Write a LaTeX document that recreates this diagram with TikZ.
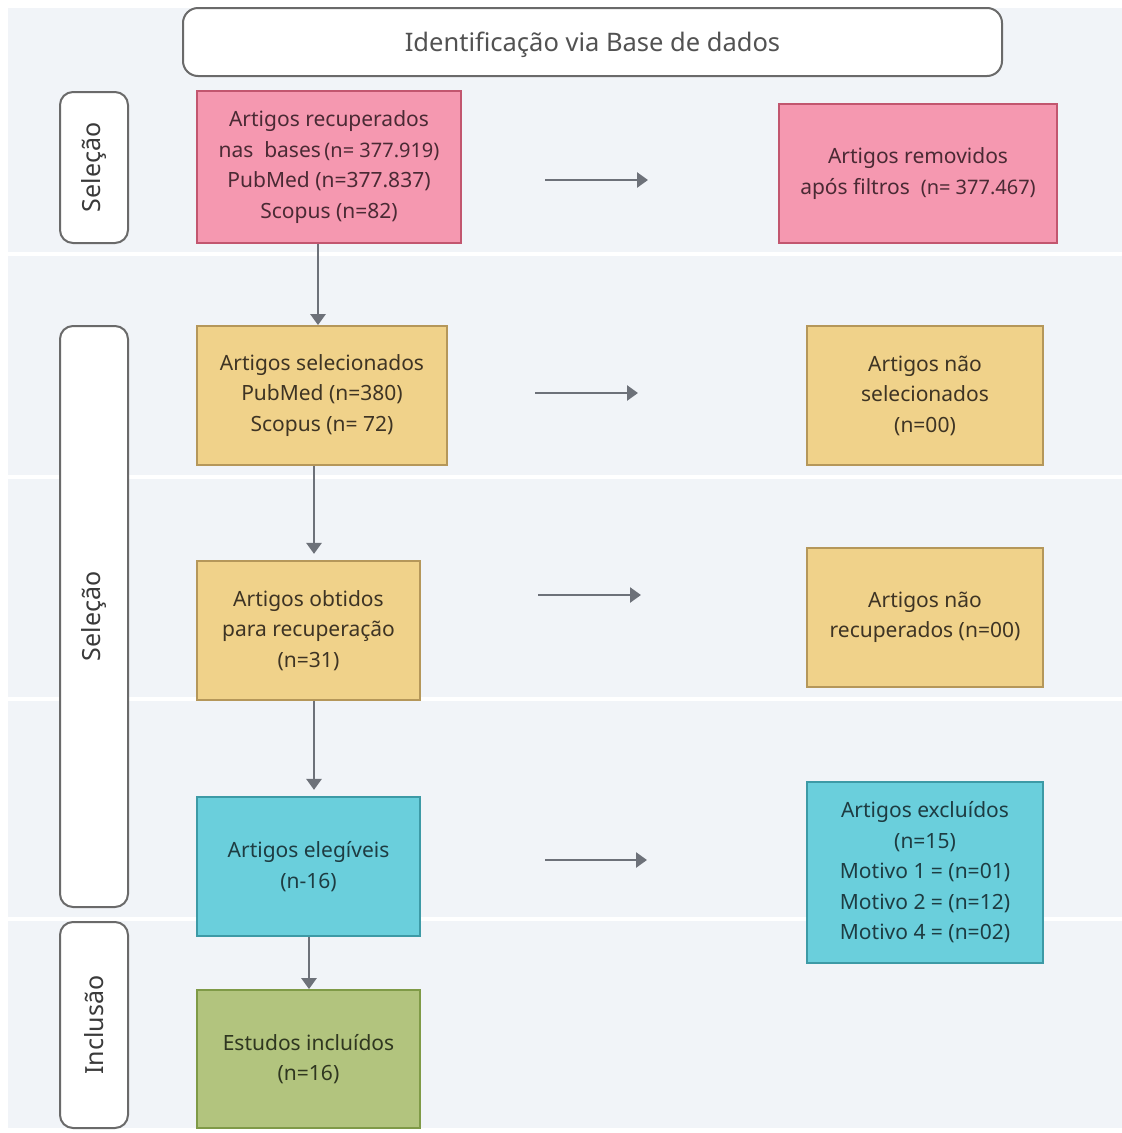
\documentclass[tikz,border=0pt]{standalone}
\usepackage{fontspec}
\setmainfont{Noto Sans}
\usetikzlibrary{arrows.meta}
\definecolor{bgc}{HTML}{F1F4F8}
\definecolor{pinkf}{HTML}{F598B0}
\definecolor{pinkd}{HTML}{C2566F}
\definecolor{pinkt}{HTML}{4A2A34}
\definecolor{yelf}{HTML}{F0D28A}
\definecolor{yeld}{HTML}{B5975A}
\definecolor{yelt}{HTML}{3E3424}
\definecolor{cyanf}{HTML}{6ACFDC}
\definecolor{cyand}{HTML}{3D9AA6}
\definecolor{cyant}{HTML}{1E3C42}
\definecolor{grnf}{HTML}{B2C47E}
\definecolor{grnd}{HTML}{7F9A47}
\definecolor{grnt}{HTML}{2F3620}
\definecolor{arrc}{HTML}{6D7179}
\definecolor{txt}{HTML}{3A3A3A}
\definecolor{lblb}{HTML}{6A6A6A}
\tikzset{
  box/.style={draw, line width=1.8pt, align=center, inner sep=0pt,
    font=\fontsize{21}{30.5}\selectfont},
  lane/.style={draw=lblb, fill=white, line width=2pt, rounded corners=13pt},
  lanetext/.style={rotate=90, text=txt, font=\fontsize{25}{28}\selectfont},
  arr/.style={draw=arrc, line width=2.6pt, -{Triangle[width=15pt,length=11pt]}},
}
\begin{document}
\begin{tikzpicture}[x=1pt,y=-1pt]
\useasboundingbox (0,0) rectangle (1122,1133);
\fill[white] (0,0) rectangle (1122,1133);
% bands
\fill[bgc] (8,8) rectangle (1122,252);
\fill[bgc] (8,256) rectangle (1122,475);
\fill[bgc] (8,479) rectangle (1122,697);
\fill[bgc] (8,701) rectangle (1122,917);
\fill[bgc] (8,921) rectangle (1122,1128);

% header
\node[lane, rounded corners=15pt, minimum width=819pt, minimum height=68pt] (head) at (592.5,42) {};
\node[font=\fontsize{25.5}{28}\selectfont, text=black!68] at ([yshift=-3pt]head.center) {Identificação via Base de dados};

% lane labels
\node[lane, minimum width=68pt, minimum height=151pt] (lane1) at (94,167.5) {};
\node[lanetext] at (lane1.center) {Seleção};
\node[lane, minimum width=68pt, minimum height=581pt] (lane2) at (94,616.5) {};
\node[lanetext] at (lane2.center) {Seleção};
\node[lane, minimum width=68pt, minimum height=206pt] (lane3) at (94,1025) {};
\node[lanetext] at (lane3.center) {Inclusão};

% main boxes
\node[box, fill=pinkf, draw=pinkd, text=pinkt, minimum width=264pt, minimum height=152pt] (p1) at (329,167)
  {Artigos recuperados\\nas\ \ bases\,{\fontsize{20}{30.5}\selectfont(n= 377.919)}\\PubMed (n=377.837)\\Scopus (n=82)};
\node[box, fill=pinkf, draw=pinkd, text=pinkt, minimum width=278pt, minimum height=139pt] (p2) at (918,173.5)
  {Artigos removidos\\após filtros\ \ {\fontsize{20}{30.5}\selectfont(n= 377.467)}};

\node[box, fill=yelf, draw=yeld, text=yelt, minimum width=250pt, minimum height=139pt] (y1) at (322,395.5)
  {Artigos selecionados\\PubMed (n=380)\\Scopus (n= 72)};
\node[box, fill=yelf, draw=yeld, text=yelt, minimum width=236pt, minimum height=139pt] (yr1) at (925,395.5)
  {Artigos não\\selecionados\\(n=00)};

\node[box, fill=yelf, draw=yeld, text=yelt, minimum width=223pt, minimum height=139pt] (y2) at (308.5,630.5)
  {Artigos obtidos\\para recuperação\\(n=31)};
\node[box, fill=yelf, draw=yeld, text=yelt, minimum width=236pt, minimum height=139pt] (yr2) at (925,617.5)
  {Artigos não\\recuperados (n=00)};

\node[box, fill=cyanf, draw=cyand, text=cyant, minimum width=223pt, minimum height=139pt] (c1) at (308.5,866.5)
  {Artigos elegíveis\\(n-16)};
\node[box, fill=cyanf, draw=cyand, text=cyant, minimum width=236pt, minimum height=181pt] (cr1) at (925,872.5)
  {Artigos excluídos\\(n=15)\\Motivo 1 = (n=01)\\Motivo 2 = (n=12)\\Motivo 4 = (n=02)};

\node[box, fill=grnf, draw=grnd, text=grnt, minimum width=223pt, minimum height=138pt] (g1) at (308.5,1059)
  {Estudos incluídos\\(n=16)};

% vertical arrows
\draw[arr] ([xshift=-11pt]p1.south) -- ([xshift=-11pt]p1.south |- y1.north);
\draw[arr] ([xshift=-8pt]y1.south) -- ++(0,88);
\draw[arr] ([xshift=5.5pt]y2.south) -- ++(0,89);
\draw[arr] ([xshift=0.5pt]c1.south) -- ([xshift=0.5pt]c1.south |- g1.north);

% horizontal arrows
\coordinate (h1s) at (545,180); \coordinate (h1e) at (648,180);
\coordinate (h2s) at (535,393); \coordinate (h2e) at (638,393);
\coordinate (h3s) at (538,595); \coordinate (h3e) at (641,595);
\coordinate (h4s) at (545,860); \coordinate (h4e) at (647,860);
\draw[arr] (h1s) -- (h1e);
\draw[arr] (h2s) -- (h2e);
\draw[arr] (h3s) -- (h3e);
\draw[arr] (h4s) -- (h4e);
\end{tikzpicture}
\end{document}
